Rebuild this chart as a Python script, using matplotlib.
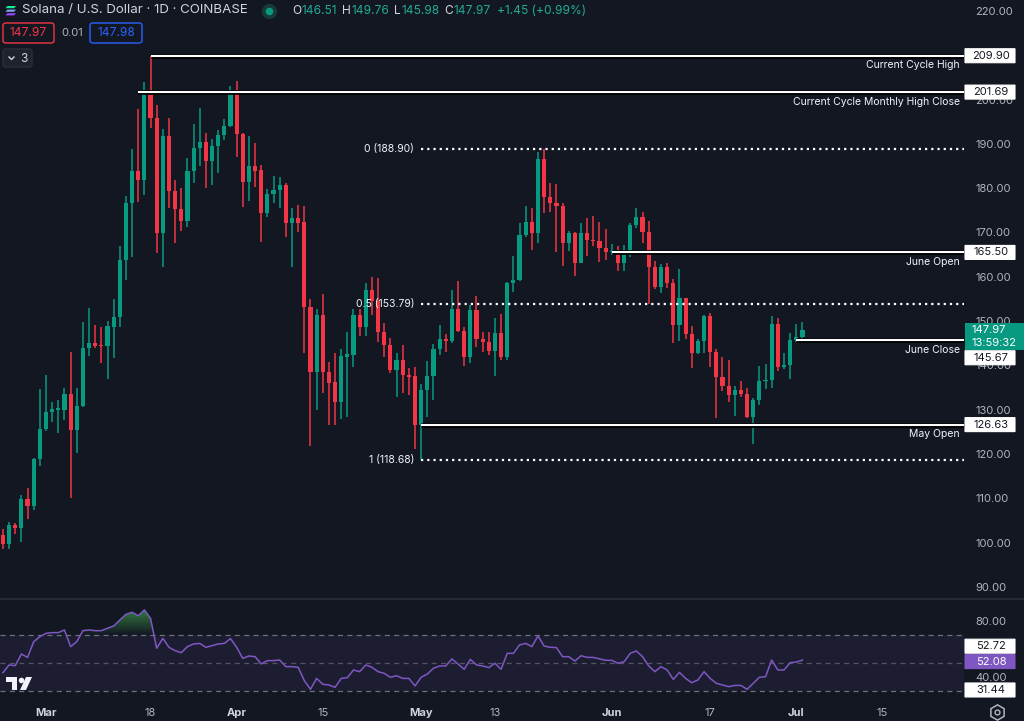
import numpy as np
import pandas as pd
import matplotlib
matplotlib.use("Agg")
import matplotlib.pyplot as plt
import matplotlib.transforms as mtrans
import matplotlib.patheffects as pe
from matplotlib.patches import Rectangle, FancyBboxPatch, Polygon
from matplotlib.lines import Line2D
from matplotlib.path import Path
from matplotlib.colors import LinearSegmentedColormap

plt.rcParams['font.family'] = ['Inter', 'DejaVu Sans']

W, H = 1024, 721
BG = '#131722'
GREEN = '#089981'
RED = '#f23645'
TXT = '#d1d4dc'
AXT = '#b2b5be'
GTXT = '#22ab94'

# ---------------- data ----------------
dates = pd.date_range('2024-02-23', '2024-07-02', freq='D')
opens = [101.6, 99.7, 104.0, 103.2, 109.8, 108.3, 118.9, 125.6, 129.4, 130.0,
         129.9, 133.5, 125.4, 130.8, 144.0, 145.1, 144.6, 144.4, 148.7, 151.0,
         163.8, 176.6, 183.9, 181.9, 201.4, 195.9, 169.8, 191.8, 179.4, 175.2,
         172.7, 183.9, 189.0, 190.4, 186.1, 189.6, 192.0, 194.1, 201.69, 192.2,
         181.5, 185.0, 184.0, 174.3, 178.7, 179.6, 180.7, 172.2, 173.2, 172.3,
         153.1, 138.4, 151.3, 138.4, 136.2, 131.8, 142.0, 142.3, 151.3, 148.7,
         157.0, 154.6, 147.6, 144.6, 139.0, 141.2, 137.8, 137.5, 126.63, 134.4,
         137.5, 143.7, 146.0, 145.6, 152.7, 147.8, 142.0, 152.5, 145.9, 145.3,
         143.3, 147.4, 141.8, 158.5, 159.3, 169.4, 172.3, 169.8, 186.7, 178.1,
         176.7, 175.9, 167.6, 169.8, 163.2, 169.8, 168.4, 168.0, 166.6, 165.5,
         165.9, 163.0, 164.9, 171.8, 173.4, 170.0, 162.3, 157.6, 162.1, 158.7,
         149.1, 155.1, 147.1, 142.9, 145.6, 151.2, 143.1, 137.3, 135.4, 133.3,
         134.4, 133.6, 128.4, 132.2, 136.5, 136.8, 149.4, 139.6, 140.0, 145.67,
         146.51]
highs = [103.1, 104.7, 104.4, 110.7, 112.3, 119.0, 134.7, 137.8, 131.8, 132.2,
         134.8, 143.0, 134.8, 149.9, 152.9, 149.2, 148.7, 150.1, 155.0, 167.0,
         178.3, 188.8, 197.9, 204.0, 209.9, 198.8, 193.3, 195.8, 181.9, 180.0,
         186.9, 194.6, 198.0, 192.5, 191.0, 193.1, 195.6, 203.1, 204.2, 192.4,
         191.8, 190.1, 185.2, 179.8, 182.8, 182.5, 181.1, 175.5, 176.3, 176.0,
         154.9, 152.8, 156.1, 140.7, 142.9, 143.8, 147.6, 152.7, 152.8, 158.5,
         160.0, 159.8, 149.5, 146.1, 142.9, 144.6, 139.3, 139.6, 135.8, 141.0,
         144.9, 149.1, 147.1, 157.0, 159.1, 148.7, 153.7, 155.7, 147.6, 147.6,
         150.8, 151.5, 158.9, 164.7, 172.1, 176.0, 175.5, 188.2, 188.9, 181.1,
         180.9, 176.6, 170.3, 170.0, 172.1, 173.2, 173.7, 172.4, 170.8, 167.3,
         166.9, 167.1, 172.1, 175.6, 174.6, 172.7, 163.6, 162.8, 163.0, 159.5,
         161.7, 155.3, 148.9, 146.0, 151.3, 151.8, 143.6, 141.8, 141.2, 135.3,
         136.5, 135.0, 132.6, 139.9, 140.2, 151.2, 150.6, 142.9, 147.4, 149.3,
         149.76]
lows = [98.6, 98.6, 102.0, 100.2, 105.3, 107.4, 117.3, 125.3, 127.3, 124.7,
        127.7, 110.0, 120.2, 130.7, 142.1, 143.9, 140.5, 136.9, 141.7, 148.7,
        159.3, 164.5, 176.8, 178.5, 193.5, 165.3, 162.3, 175.5, 167.7, 170.3,
        171.3, 181.1, 184.9, 180.1, 180.7, 183.4, 190.9, 193.7, 187.0, 175.8,
        177.0, 180.3, 167.9, 173.4, 176.7, 175.5, 168.9, 162.3, 170.2, 142.9,
        121.8, 129.9, 133.7, 126.5, 126.5, 127.8, 128.4, 139.7, 146.7, 146.6,
        151.4, 145.2, 142.0, 138.3, 132.9, 133.7, 133.3, 121.1, 118.68, 128.3,
        132.2, 142.3, 143.1, 145.0, 147.5, 139.9, 140.5, 144.2, 143.0, 142.3,
        137.6, 141.2, 141.2, 156.6, 159.1, 168.9, 166.0, 167.7, 174.3, 174.7,
        165.5, 162.4, 165.9, 160.2, 163.0, 164.7, 166.9, 163.4, 163.8, 165.0,
        161.4, 161.4, 164.4, 171.1, 167.6, 153.9, 157.2, 156.4, 157.4, 145.0,
        145.4, 145.9, 139.5, 142.6, 142.9, 139.7, 128.1, 134.3, 131.8, 128.6,
        132.9, 128.1, 122.2, 131.1, 134.6, 135.0, 138.7, 139.1, 136.9, 145.3,
        145.98]
closes = [99.7, 104.0, 103.2, 109.8, 108.3, 118.9, 125.6, 129.4, 130.2, 130.3,
          133.5, 125.4, 130.8, 144.0, 145.1, 144.4, 144.3, 149.0, 151.0, 163.8,
          176.6, 183.9, 181.9, 201.6, 195.9, 169.8, 191.8, 179.4, 175.2, 172.7,
          183.9, 189.0, 190.4, 186.1, 189.6, 192.0, 194.1, 201.69, 192.2, 181.5,
          185.0, 183.9, 174.3, 178.7, 179.6, 180.7, 172.2, 173.3, 172.2, 153.1,
          138.4, 151.3, 138.4, 136.1, 131.8, 142.1, 142.5, 151.3, 148.7, 157.0,
          154.6, 147.6, 144.6, 139.0, 141.2, 137.8, 137.4, 126.63, 134.4, 137.6,
          143.7, 146.0, 145.6, 152.7, 147.8, 142.0, 152.5, 145.9, 145.3, 143.3,
          147.4, 141.8, 158.5, 159.3, 169.4, 172.3, 169.8, 186.7, 178.1, 176.7,
          175.9, 167.6, 169.8, 163.2, 169.8, 168.3, 168.0, 166.6, 165.5, 165.9,
          163.0, 164.9, 171.8, 173.4, 170.0, 162.3, 157.6, 162.1, 158.7, 149.1,
          155.1, 147.1, 142.9, 145.6, 151.2, 143.1, 137.3, 135.4, 133.3, 134.4,
          133.6, 128.4, 132.2, 136.5, 136.8, 149.4, 139.6, 140.0, 145.67, 146.51,
          147.97]
rsi = [43.1, 48.6, 48.1, 56.4, 54.0, 65.2, 68.8, 71.2, 71.7, 71.7,
       73.6, 61.7, 65.2, 73.1, 73.6, 73.1, 73.1, 74.8, 76.4, 80.7,
       84.8, 86.2, 83.8, 87.9, 81.9, 60.5, 67.6, 61.2, 58.8, 57.4,
       61.7, 63.6, 64.0, 61.2, 62.4, 63.6, 64.0, 67.4, 61.2, 53.3,
       55.0, 54.5, 49.3, 51.7, 51.7, 52.1, 47.4, 47.4, 46.9, 37.4,
       31.2, 39.0, 34.8, 34.3, 32.6, 39.0, 39.5, 45.0, 43.8, 48.6,
       46.9, 43.8, 42.6, 39.8, 40.9, 39.0, 39.0, 33.6, 39.8, 42.1,
       46.2, 47.9, 47.9, 52.9, 49.3, 45.5, 52.6, 48.6, 47.9, 46.7,
       49.8, 45.5, 56.9, 56.9, 62.9, 64.0, 61.7, 69.3, 62.1, 61.2,
       61.0, 54.5, 54.5, 51.4, 55.2, 54.0, 54.0, 52.9, 51.9, 51.9,
       49.8, 50.9, 56.9, 58.6, 54.5, 47.9, 43.8, 47.4, 45.0, 38.3,
       43.3, 39.0, 35.9, 37.9, 43.8, 39.0, 35.5, 34.3, 33.1, 34.0,
       34.0, 31.2, 35.5, 39.8, 40.2, 52.1, 45.0, 45.0, 50.2, 50.7,
       52.08]

tick_dates = ['2024-03-01', '2024-03-18', '2024-04-01', '2024-04-15', '2024-05-01',
              '2024-05-13', '2024-06-01', '2024-06-17', '2024-07-01', '2024-07-15']
tick_labels = ['Mar', '18', 'Apr', '15', 'May', '13', 'Jun', '17', 'Jul', '15']
tick_is_month = [True, False, True, False, True, False, True, False, True, False]

level_values = [209.90, 201.69, 165.50, 145.67, 126.63]
level_names = ['Current Cycle High', 'Current Cycle Monthly High Close',
               'June Open', 'June Close', 'May Open']
level_starts = ['2024-03-18', '2024-03-16', '2024-06-01', '2024-07-01', '2024-05-01']

fib_values = [188.90, 153.79, 118.68]
fib_labels = ['0 (188.90)', '0.5 (153.79)', '1 (118.68)']
fib_start = '2024-05-01'

# 210.00 sits fully behind the 209.90 label box in the reference
price_ticks = [90, 100, 110, 120, 130, 140, 150, 160, 170, 180, 190, 200, 220]
rsi_ticks = [40, 80]
rsi_levels = [70, 50, 30]

# ---------------- figure ----------------
REF = pd.Timestamp('2024-03-01')
def dnum(s):
    return (pd.Timestamp(s) - REF).days

x = np.asarray((dates - REF).days, dtype=float)
o = np.array(opens); h = np.array(highs); l = np.array(lows); c = np.array(closes)
r = np.array(rsi)

fig = plt.figure(figsize=(W / 100, H / 100), dpi=100, facecolor=BG)
ax = fig.add_axes([0, 1 - 598 / H, 964 / W, 598 / H], facecolor=BG)
ax2 = fig.add_axes([0, 1 - 700 / H, 964 / W, 101 / H], facecolor=BG)

XLIM = (-7.48, 149.27)
PYLIM = (87.49, 222.48)
RYLIM = (23.57, 95.71)

for a in (ax, ax2):
    for s in a.spines.values():
        s.set_visible(False)
    a.set_xlim(*XLIM)

# candles
up = c >= o
cols = np.where(up, GREEN, RED)
ax.vlines(x, l, h, colors=cols, lw=1.1, zorder=2)
body_lo = np.minimum(o, c)
body_h = np.maximum(np.abs(c - o), 0.3)
ax.bar(x, body_h, bottom=body_lo, width=0.68, color=cols, linewidth=0, zorder=3)

line_fx = [pe.Stroke(linewidth=3.4, foreground='#000000'), pe.Normal()]
xmax = XLIM[1]
blend = mtrans.blended_transform_factory(ax.transAxes, ax.transData)
for val, name, st in zip(level_values, level_names, level_starts):
    ax.plot([dnum(st), xmax], [val, val], color='white', lw=1.5, zorder=6,
            path_effects=line_fx, solid_capstyle='butt')
    ax.annotate(name, xy=(1, val), xycoords=blend,
                xytext=(-3, -6.8), textcoords='offset points', ha='right', va='center',
                fontsize=7.5, color='#f0f3fa', zorder=7)

for val, lab in zip(fib_values, fib_labels):
    ax.plot([dnum(fib_start), xmax], [val, val], color='white', lw=1.6, zorder=6,
            linestyle=(0, (1, 1.8)))
    ax.annotate(lab, xy=(dnum(fib_start), val), xytext=(-5, 0), textcoords='offset points',
                ha='right', va='center', fontsize=7.5, color='#f0f3fa', zorder=7)

ax.set_ylim(*PYLIM)
ax.yaxis.tick_right()
ax.set_yticks(price_ticks)
ax.set_yticklabels([f'{t:.2f}' for t in price_ticks])
ax.tick_params(axis='y', length=0, pad=8, labelsize=8, labelcolor=AXT)
ax.tick_params(axis='x', bottom=False, labelbottom=False)

# ---------------- RSI ----------------
ax2.axhspan(30, 70, color='#7e57c2', alpha=0.1, lw=0, zorder=1)
for lv in rsi_levels:
    ax2.axhline(lv, color='#787b86', lw=0.9, linestyle=(0, (4, 3.5)), zorder=2,
                alpha=0.6 if lv == 50 else 0.9)
fb = ax2.fill_between(x, 70, r, where=r > 70, interpolate=True, facecolor='none', edgecolor='none')
paths = fb.get_paths()
if paths:
    cp = Path.make_compound_path(*paths)
    cmap = LinearSegmentedColormap.from_list('ob', [(0.25, 0.62, 0.30, 0.0), (0.25, 0.62, 0.30, 0.85)])
    grad = np.linspace(0, 1, 200).reshape(-1, 1)
    im = ax2.imshow(grad, extent=[x[0] - 1, x[-1] + 1, 70, 90], origin='lower', aspect='auto',
                    cmap=cmap, zorder=3, interpolation='bilinear')
    im.set_clip_path(cp, transform=ax2.transData)
ax2.plot(x, r, color='#7e57c2', lw=1.1, zorder=4)
ax2.set_xlim(*XLIM)
ax2.set_ylim(*RYLIM)
ax2.yaxis.tick_right()
ax2.set_yticks(rsi_ticks)
ax2.set_yticklabels([f'{t:.2f}' for t in rsi_ticks])
ax2.tick_params(axis='y', length=0, pad=8, labelsize=8, labelcolor=AXT)
ax2.set_xticks([dnum(t) for t in tick_dates])
ax2.set_xticklabels(tick_labels)
ax2.tick_params(axis='x', length=0, pad=6, labelsize=8, labelcolor=AXT)
for lab, ism in zip(ax2.get_xticklabels(), tick_is_month):
    if ism:
        lab.set_fontweight('bold')
        lab.set_color(TXT)

# ---------------- right-side boxes ----------------
def right_box(axis, level, text, fc, tc, shift_px=0.0, x0=965, w=50, hh=14, ec=None, text2=None):
    y0, y1 = axis.get_ylim()
    upp = (y1 - y0) / (axis.get_position().height * H)
    tr = mtrans.blended_transform_factory(fig.transFigure, axis.transData)
    yc = level - shift_px * upp
    if text2 is None:
        rect = FancyBboxPatch((x0 / W, yc - hh / 2 * upp), w / W, hh * upp,
                              boxstyle='round,pad=0,rounding_size=0.0015', transform=tr,
                              facecolor=fc, edgecolor=ec or fc, lw=0.8, zorder=10)
        fig.add_artist(rect)
        fig.text((x0 + w / 2 + 1) / W, yc, text, transform=tr, ha='center', va='center',
                 fontsize=8, color=tc, zorder=11)
    else:
        top = yc + 7 * upp
        bot = yc - 20 * upp
        rect = Rectangle((x0 / W, bot), w / W, top - bot, transform=tr, facecolor=fc,
                         edgecolor=fc, lw=0, zorder=10)
        fig.add_artist(rect)
        fig.text((x0 + 7) / W, yc, text, transform=tr, ha='left', va='center',
                 fontsize=8, color=tc, zorder=11)
        fig.text((x0 + 7) / W, yc - 13 * upp, text2, transform=tr, ha='left', va='center',
                 fontsize=8, color=tc, zorder=11)

for val in level_values:
    shift = 17.5 if abs(val - 145.67) < 0.01 else 0.0
    right_box(ax, val, f'{val:.2f}', 'white', '#131722', shift_px=shift)
right_box(ax, closes[-1], f'{closes[-1]:.2f}', GREEN, 'white', w=59, text2='13:59:32')

right_box(ax2, 52.72, '52.72', 'white', '#131722', shift_px=-13)
right_box(ax2, rsi[-1], f'{rsi[-1]:.2f}', '#7e57c2', 'white', shift_px=1.5)
right_box(ax2, 31.44, '31.44', 'white', '#131722', shift_px=1)

# pane separator
fig.add_artist(Line2D([0, 1], [1 - 598.5 / H, 1 - 598.5 / H], color='#2a2e39', lw=1.2,
                      transform=fig.transFigure, zorder=5))

# ---------------- header ----------------
def P(px, py):
    return px / W, 1 - py / H

# Solana icon
for i, colr in enumerate(['#14f195', '#80a0e8', '#9945ff']):
    yy = 6 + i * 3.6
    poly = Polygon([P(7.5, yy), P(16, yy), P(14, yy + 2.2), P(5.5, yy + 2.2)], closed=True,
                   transform=fig.transFigure, facecolor=colr, edgecolor='none', zorder=12)
    fig.add_artist(poly)

fig.text(*P(22, 10.5), 'Solana / U.S. Dollar · 1D · COINBASE', fontsize=9.6, color=TXT,
         ha='left', va='center', zorder=12)
fig.add_artist(Line2D([269 / W], [1 - 10.5 / H], marker='o', markersize=11, color='#173a36',
                      transform=fig.transFigure, zorder=12, markeredgewidth=0))
fig.add_artist(Line2D([269 / W], [1 - 10.5 / H], marker='o', markersize=5.5, color=GREEN,
                      transform=fig.transFigure, zorder=13, markeredgewidth=0))

# OHLC legend laid out piece by piece with measured widths
renderer = fig.canvas.get_renderer()
pieces = [('O', TXT, 0.5), (f'{opens[-1]:.2f}', GTXT, 5), ('H', TXT, 0.5),
          (f'{highs[-1]:.2f}', GTXT, 5), ('L', TXT, 0.5), (f'{lows[-1]:.2f}', GTXT, 5),
          ('C', TXT, 0.5), (f'{closes[-1]:.2f}', GTXT, 6), ('+1.45 (+0.99%)', GTXT, 0)]
cx = 292.0
for s, colr, gap in pieces:
    t = fig.text(*P(cx, 10.5), s, fontsize=8.6, color=colr, ha='left', va='center', zorder=12)
    bb = t.get_window_extent(renderer=renderer)
    cx += bb.width + gap

# bid / ask boxes
for bx, bw, ec, tc, s in [(3, 51, RED, RED, '147.97'), (90, 52, '#2962ff', '#2962ff', '147.98')]:
    fig.add_artist(FancyBboxPatch(P(bx, 43), bw / W, 20 / H,
                                  boxstyle='round,pad=0,rounding_size=0.003',
                                  transform=fig.transFigure, facecolor=BG, edgecolor=ec,
                                  lw=1.0, zorder=12))
    fig.text(*P(bx + bw / 2, 33), s, fontsize=8.6, color=tc, ha='center', va='center', zorder=13)
fig.text(*P(72, 33), '0.01', fontsize=8, color=AXT, ha='center', va='center', zorder=13)

fig.add_artist(FancyBboxPatch(P(3, 67), 29 / W, 18 / H, boxstyle='round,pad=0,rounding_size=0.003',
                              transform=fig.transFigure, facecolor='#1e222d', edgecolor='#2a2e39',
                              lw=1.0, zorder=12))
fig.add_artist(Line2D([9 / W, 11.5 / W, 14 / W], [1 - 57 / H, 1 - 59.5 / H, 1 - 57 / H],
                      color=TXT, lw=1.0, transform=fig.transFigure, zorder=13))
fig.text(*P(24, 58.5), '3', fontsize=8.6, color=TXT, ha='center', va='center', zorder=13)

# TradingView logo (bottom-left of RSI pane)
logo_col = '#f0f3fa'
fig.add_artist(Polygon([P(6, 677), P(17, 677), P(17, 690), P(12, 690), P(12, 682), P(6, 682)],
                       closed=True, transform=fig.transFigure, facecolor=logo_col,
                       edgecolor='none', zorder=12))
fig.add_artist(Line2D([20.5 / W], [1 - 679.5 / H], marker='o', markersize=4, color=logo_col,
                      transform=fig.transFigure, zorder=12, markeredgewidth=0))
fig.add_artist(Polygon([P(26, 677), P(32, 677), P(26, 690), P(20, 690)], closed=True,
                       transform=fig.transFigure, facecolor=logo_col, edgecolor='none', zorder=12))

# gear icon
fig.add_artist(Line2D([997 / W], [1 - 712 / H], marker='h', markersize=11, color='none',
                      markeredgecolor=AXT, markeredgewidth=1.1, transform=fig.transFigure, zorder=12))
fig.add_artist(Line2D([997 / W], [1 - 712 / H], marker='o', markersize=3.5, color='none',
                      markeredgecolor=AXT, markeredgewidth=1.0, transform=fig.transFigure, zorder=12))

fig.savefig('out.png', dpi=100, facecolor=BG)
